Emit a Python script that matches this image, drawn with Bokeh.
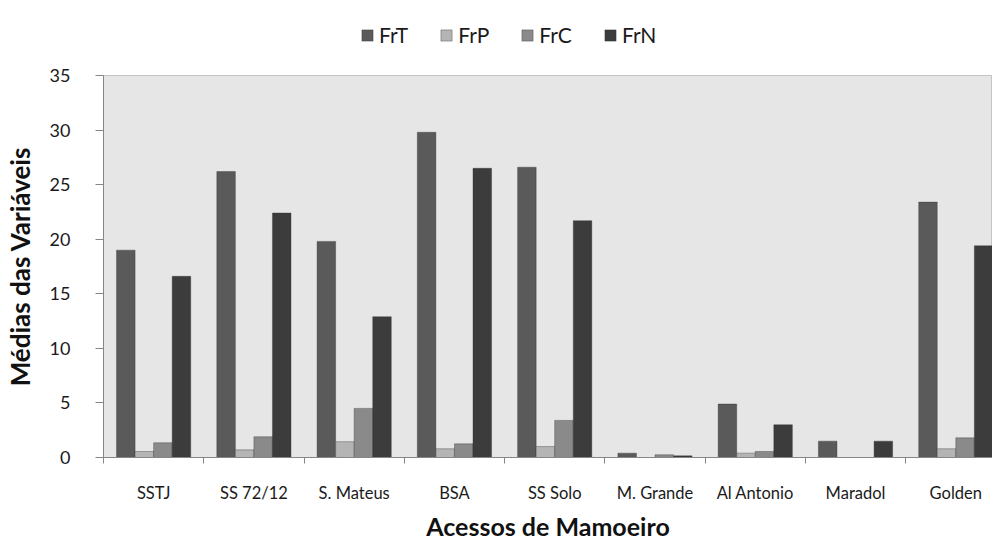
from bokeh.plotting import figure
from bokeh.models import ColumnDataSource, Range1d, FixedTicker, Legend, LegendItem
from bokeh.transform import dodge
from bokeh.layouts import column
from bokeh.embed import file_html
from bokeh.resources import INLINE

categories = ["SSTJ", "SS 72/12", "S. Mateus", "BSA", "SS Solo",
              "M. Grande", "Al Antonio", "Maradol", "Golden"]
FrT = [19.0, 26.2, 19.8, 29.8, 26.6, 0.4, 4.9, 1.5, 23.4]
FrP = [0.55, 0.7, 1.45, 0.8, 1.0, 0.0, 0.4, 0.0, 0.8]
FrC = [1.35, 1.9, 4.5, 1.25, 3.4, 0.25, 0.55, 0.0, 1.8]
FrN = [16.6, 22.4, 12.9, 26.5, 21.7, 0.15, 3.0, 1.5, 19.4]
series_names = ["FrT", "FrP", "FrC", "FrN"]
y_ticks = [0, 5, 10, 15, 20, 25, 30, 35]

FONT = "Lato"
colors = ["#5a5a5a", "#b4b4b4", "#8a8a8a", "#3c3c3c"]
offsets = [-0.2775, -0.0925, 0.0925, 0.2775]

idx = list(range(len(categories)))
source = ColumnDataSource(data=dict(x=idx, FrT=FrT, FrP=FrP, FrC=FrC, FrN=FrN))

# ---- legend strip (top) ----
lg = figure(width=992, height=60, output_backend="svg", toolbar_location=None,
            x_range=Range1d(0, 1), y_range=Range1d(0, 1),
            min_border=0)
lg.axis.visible = False
lg.grid.visible = False
lg.outline_line_color = None
lg.background_fill_color = "white"
lg.border_fill_color = "white"
lg_renderers = []
for name, col in zip(series_names, colors):
    r = lg.vbar(x="x", top=name, width=0.185, source=source, fill_color=col,
                line_color="#2e2e2e", line_width=0.6, line_alpha=0.6, visible=False)
    lg_renderers.append(r)
legend = Legend(items=[LegendItem(label=n, renderers=[r]) for n, r in zip(series_names, lg_renderers)],
                orientation="horizontal", location=(257, 13),
                glyph_width=14, glyph_height=14, label_standoff=5, spacing=31,
                label_text_font=FONT, label_text_font_size="21px",
                label_text_color="#1a1a1a",
                inactive_fill_alpha=0,
                padding=2, margin=0, border_line_color=None,
                background_fill_alpha=0)
lg.add_layout(legend, "center")

# ---- main chart ----
p = figure(width=992, height=483, output_backend="svg", toolbar_location=None,
           x_range=Range1d(-0.5, 8.366), y_range=Range1d(0, 35),
           min_border_left=101, min_border_right=0, min_border_top=15,
           min_border_bottom=79)
p.background_fill_color = "#e6e6e6"
p.border_fill_color = "white"
p.outline_line_color = "#c4c4c4"
p.xgrid.grid_line_color = None
p.ygrid.grid_line_color = None

for name, col, off in zip(series_names, colors, offsets):
    p.vbar(x=dodge("x", off), top=name, width=0.185, bottom=0, source=source,
           fill_color=col, line_color="#2e2e2e", line_width=0.6, line_alpha=0.6)

# x axis
xa = p.xaxis[0]
xa.ticker = FixedTicker(ticks=idx, minor_ticks=[i - 0.5 for i in range(len(categories) + 1)])
xa.major_label_overrides = {i: c for i, c in enumerate(categories)}
xa.major_tick_line_color = None
xa.major_tick_out = 0
xa.major_tick_in = 0
xa.minor_tick_line_color = "#868686"
xa.minor_tick_out = 6
xa.minor_tick_in = 0
xa.axis_line_color = "#868686"
xa.major_label_text_font = FONT
xa.major_label_text_font_size = "16.5px"
xa.major_label_text_color = "#1a1a1a"
xa.major_label_standoff = 19
xa.axis_label = "Acessos de Mamoeiro"
xa.axis_label_text_font = FONT
xa.axis_label_text_font_style = "bold"
xa.axis_label_text_font_size = "25px"
xa.axis_label_text_color = "#111111"
xa.axis_label_standoff = 5

# y axis
ya = p.yaxis[0]
ya.ticker = FixedTicker(ticks=y_ticks)
ya.minor_tick_line_color = None
ya.major_tick_out = 8
ya.major_tick_in = 0
ya.major_tick_line_color = "#868686"
ya.axis_line_color = "#868686"
ya.major_label_text_font = FONT
ya.major_label_text_font_size = "18px"
ya.major_label_text_color = "#1a1a1a"
ya.major_label_standoff = 25
ya.axis_label = "Médias das Variáveis"
ya.axis_label_text_font = FONT
ya.axis_label_text_font_style = "bold"
ya.axis_label_text_font_size = "26px"
ya.axis_label_text_color = "#111111"
ya.axis_label_standoff = 11

layout = column(lg, p, spacing=0)
open("out.html", "w").write(file_html(layout, INLINE))
